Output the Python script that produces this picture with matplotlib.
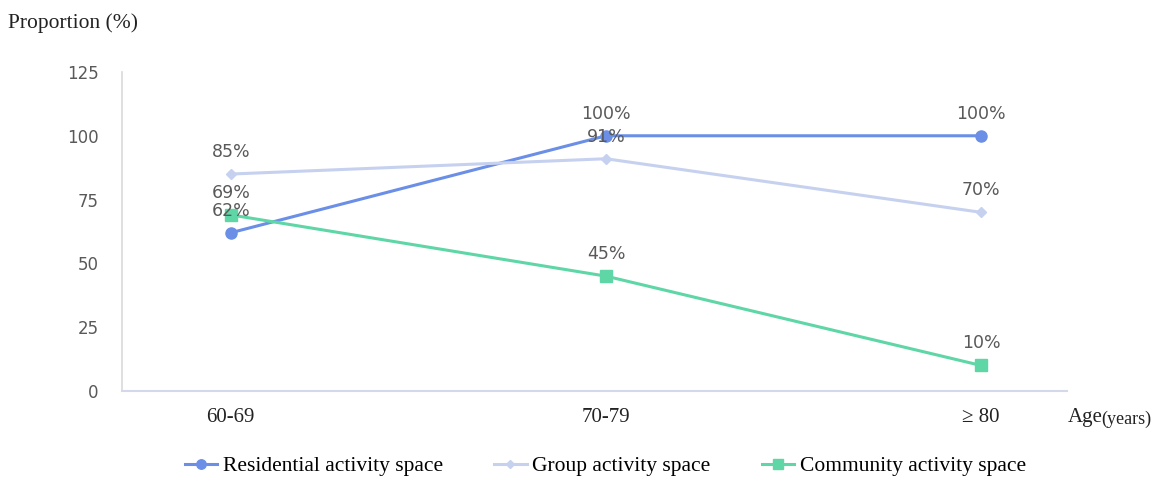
import matplotlib
matplotlib.use("Agg")
import matplotlib.pyplot as plt

categories = ["60-69", "70-79", "\u2265 80"]
residential = [62, 100, 100]
group = [85, 91, 70]
community = [69, 45, 10]
series_names = ["Residential activity space", "Group activity space", "Community activity space"]
y_ticks = [0, 25, 50, 75, 100, 125]

colors = ["#6b8fe6", "#c6d1f0", "#5ed6a6"]
markers = ["o", "D", "s"]
msizes = [8, 5, 8]

fig = plt.figure(figsize=(11.73, 4.83), dpi=100)
ax = fig.add_axes([0.104, 0.1905, 0.806, 0.6605])

x = list(range(len(categories)))
for vals, name, c, m, ms in zip([residential, group, community], series_names, colors, markers, msizes):
    ax.plot(x, vals, color=c, marker=m, markersize=ms, linewidth=2.2, label=name, zorder=3)
    for xi, v in zip(x, vals):
        ax.annotate(f"{v}%", (xi, v), xytext=(0, 16), textcoords="offset points",
                    ha="center", va="center", fontsize=12.5, color="#595959",
                    family="DejaVu Sans", zorder=5)

ax.set_xlim(-0.29, 2.23)
ax.set_ylim(0, 125)
ax.set_yticks(y_ticks)
ax.set_yticklabels([str(t) for t in y_ticks], fontsize=12, color="#595959", family="DejaVu Sans")
ax.set_xticks(x)
ax.set_xticklabels(categories, fontsize=15, family="Liberation Serif", color="#222222")
ax.tick_params(axis="both", length=0)
ax.tick_params(axis="y", pad=17)
ax.tick_params(axis="x", pad=12)

for s in ["top", "right"]:
    ax.spines[s].set_visible(False)
ax.spines["left"].set_color("#d9d9d9")
ax.spines["bottom"].set_color("#d3d8ea")
ax.spines["left"].set_linewidth(1.2)
ax.spines["bottom"].set_linewidth(1.5)

fig.text(0.007, 0.953, "Proportion (%)", fontsize=15.5, family="Liberation Serif", color="#222222", va="center", ha="left")
fig.text(0.910, 0.135, "Age", fontsize=15, family="Liberation Serif", color="#222222", va="center", ha="left")
fig.text(0.939, 0.131, "(years)", fontsize=13, family="Liberation Serif", color="#222222", va="center", ha="left")

leg = fig.legend(loc="center", bbox_to_anchor=(0.516, 0.035), ncol=3, frameon=False,
                 prop={"family": "Liberation Serif", "size": 15.5}, handlelength=1.5,
                 columnspacing=2.4, handletextpad=0.25, markerscale=0.85)

fig.savefig("out.png", dpi=100)
